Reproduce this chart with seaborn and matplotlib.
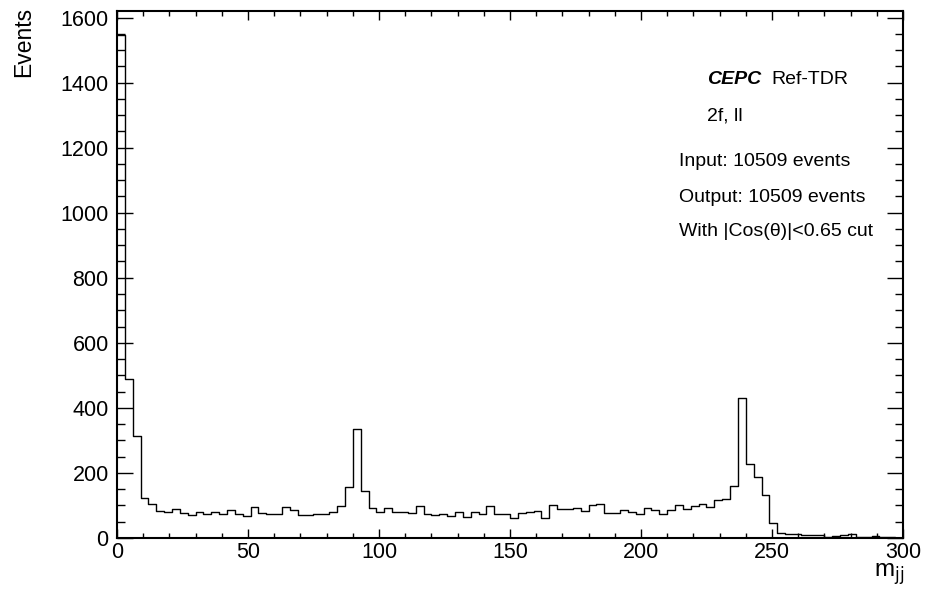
import numpy as np
import pandas as pd
import matplotlib
matplotlib.use("Agg")
import matplotlib.pyplot as plt
import seaborn as sns

# ---- data ----
bin_width = 3
x_range = (0, 300)
counts = [1545, 490, 313, 123, 104, 84, 80, 88, 76, 72,
          81, 74, 79, 74, 85, 73, 68, 95, 76, 73,
          73, 94, 87, 70, 72, 73, 74, 81, 98, 157,
          334, 146, 91, 81, 91, 79, 81, 77, 98, 74,
          70, 74, 69, 81, 65, 81, 74, 98, 73, 74,
          62, 77, 79, 82, 62, 100, 88, 88, 91, 84,
          101, 103, 77, 77, 85, 79, 73, 91, 85, 73,
          85, 102, 88, 99, 103, 95, 117, 120, 161, 430,
          226, 187, 131, 47, 16, 13, 12, 10, 8, 8,
          4, 7, 9, 11, 3, 3, 6, 4, 2, 1]
x_ticks = [0, 50, 100, 150, 200, 250, 300]
y_ticks = [0, 200, 400, 600, 800, 1000, 1200, 1400, 1600]
info_lines = ["2f, ll", "Input: 10509 events", "Output: 10509 events",
              "With |Cos(\u03b8)|<0.65 cut"]

centers = x_range[0] + bin_width * (np.arange(len(counts)) + 0.5)
df = pd.DataFrame({"mjj": centers, "events": counts})

sns.set_theme(style="ticks")
plt.rcParams["font.family"] = ["Liberation Sans", "DejaVu Sans"]
plt.rcParams["text.color"] = "black"
plt.rcParams["axes.labelcolor"] = "black"

W, H = 928, 596
fig = plt.figure(figsize=(W / 100, H / 100), dpi=100)
ax = fig.add_axes([117 / W, 1 - 538 / H, (903 - 117) / W, (538 - 11) / H])

sns.histplot(data=df, x="mjj", weights="events", binwidth=bin_width,
             binrange=x_range, element="step", fill=False, color="black",
             linewidth=1.0, ax=ax)

ax.set_xlim(0, 300)
ax.set_ylim(0, 1620)
ax.set_xticks(x_ticks)
ax.set_yticks(y_ticks)
ax.set_xticks(np.arange(0, 301, 10), minor=True)
ax.set_yticks(np.arange(0, 1601, 50), minor=True)
ax.tick_params(axis="both", which="both", direction="in", top=True, right=True,
               colors="black", labelcolor="black", labelsize=15.5)
ax.tick_params(axis="y", which="major", length=11.5, width=1.0, pad=6)
ax.tick_params(axis="y", which="minor", length=5.8, width=1.0)
ax.tick_params(axis="x", which="major", length=6.7, width=1.0, pad=3)
ax.tick_params(axis="x", which="minor", length=3.6, width=1.0)
for s in ax.spines.values():
    s.set_visible(True)
    s.set_linewidth(1.5)
    s.set_color("black")

ax.set_xlabel("")
ax.set_ylabel("")
fig.text(24 / W, 1 - 7 / H, "Events", rotation=90, ha="center", va="top",
         fontsize=16.5, color="black")
fig.text(904 / W, 1 - 574 / H, "m$_{\\mathrm{jj}}$", ha="right", va="center",
         fontsize=17.5, color="black")

fig.text(707 / W, 1 - 80 / H, "CEPC", fontsize=14, fontweight="bold",
         fontstyle="italic", ha="left", va="center", color="black")
fig.text(771 / W, 1 - 80 / H, "Ref-TDR", fontsize=14, ha="left", va="center",
         color="black")
ys = [116, 162, 197, 231]
xs = [707, 679, 679, 679]
for t, xx, yy in zip(info_lines, xs, ys):
    fig.text(xx / W, 1 - yy / H, t, fontsize=14, ha="left", va="center", color="black")

fig.savefig("out.png", dpi=100, facecolor="white")
